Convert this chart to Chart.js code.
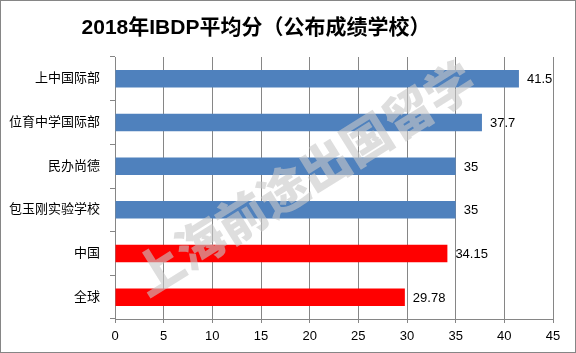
<!DOCTYPE html>
<html>
<head>
<meta charset="utf-8">
<script src="https://cdn.jsdelivr.net/npm/chart.js@4/dist/chart.umd.min.js"></script>
<style>
  body { margin: 0; background: #fff; }
  canvas { display: block; }
</style>
</head>
<body>
<canvas id="myChart" width="576" height="353"></canvas>
<script>
// 학교별 평균점수
var schools = ["上中国际部", "位育中学国际部", "民办尚德", "包玉刚实验学校", "中国", "全球"];
var scores = [41.5, 37.7, 35, 35, 34.15, 29.78];
var barColors = ["#4F81BD", "#4F81BD", "#4F81BD", "#4F81BD", "#FF0000", "#FF0000"];
var chartTitle = "2018年IBDP平均分（公布成绩学校）";
var watermark = "上海前途出国留学";

var gridColor = "#868686";
var fontFam = '"Liberation Sans", "Noto Sans CJK SC", sans-serif';

var extras = {
  id: "extras",
  afterDatasetsDraw: function(chart) {
    var ctx = chart.ctx;
    // watermark
    ctx.save();
    ctx.translate(304, 178);
    ctx.rotate(-32 * Math.PI / 180);
    ctx.font = '900 49px "Noto Sans CJK SC", sans-serif';
    ctx.fillStyle = "rgba(200,200,200,0.6)";
    ctx.textAlign = "center";
    ctx.textBaseline = "middle";
    ctx.fillText(watermark, 0, 0);
    ctx.restore();

    // value labels
    ctx.save();
    ctx.font = "13px " + fontFam;
    ctx.fillStyle = "#000";
    ctx.textAlign = "left";
    ctx.textBaseline = "middle";
    chart.getDatasetMeta(0).data.forEach(function(bar, i) {
      ctx.fillText(String(scores[i]), bar.x + 8, bar.y + 1);
    });
    ctx.restore();
  },
  afterDraw: function(chart) {
    var ctx = chart.ctx;
    ctx.save();
    ctx.font = 'bold 21px "Liberation Sans", "Noto Sans CJK SC", sans-serif';
    ctx.fillStyle = "#000";
    ctx.textAlign = "center";
    ctx.textBaseline = "middle";
    ctx.fillText(chartTitle, 256, 28);
    // outer border
    ctx.strokeStyle = gridColor;
    ctx.lineWidth = 1;
    ctx.strokeRect(0.5, 0.5, 575, 352);
    ctx.restore();
  }
};

var myChart = new Chart(document.getElementById("myChart"), {
  type: "bar",
  data: {
    labels: schools,
    datasets: [{
      data: scores,
      backgroundColor: barColors,
      borderWidth: 0,
      categoryPercentage: 1,
      barPercentage: 0.4
    }]
  },
  options: {
    indexAxis: "y",
    responsive: false,
    animation: false,
    layout: { padding: { top: 57, right: 23, left: 0, bottom: 0 } },
    plugins: {
      legend: { display: false },
      title: { display: false },
      tooltip: { enabled: false }
    },
    scales: {
      x: {
        min: 0,
        max: 45,
        ticks: { stepSize: 5, color: "#000", padding: 6, font: { family: fontFam, size: 13 } },
        grid: { color: gridColor, tickLength: 4 },
        border: { color: gridColor },
        afterFit: function(scale) { scale.height = 353 - 319; }
      },
      y: {
        ticks: { color: "#000", padding: 10, font: { family: fontFam, size: 13 } },
        grid: { offset: true, drawOnChartArea: false, color: gridColor, tickLength: 5 },
        border: { color: gridColor },
        afterFit: function(scale) { scale.width = 115; }
      }
    }
  },
  plugins: [extras]
});
</script>
</body>
</html>
